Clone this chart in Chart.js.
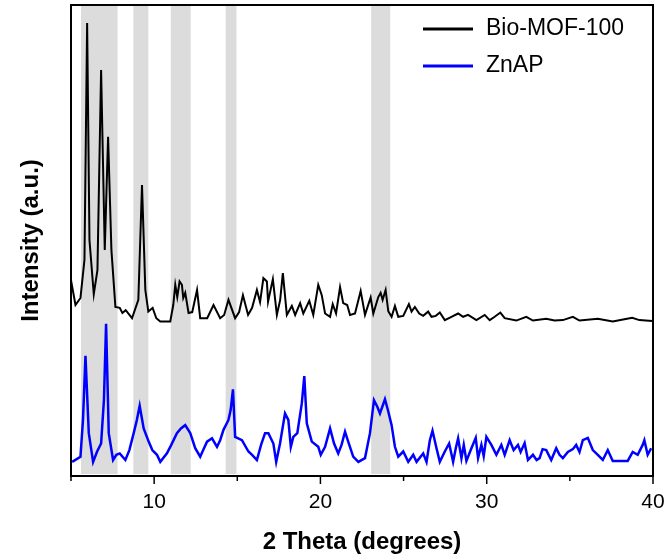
<!DOCTYPE html>
<html>
<head>
<meta charset="utf-8">
<script src="https://cdn.jsdelivr.net/npm/chart.js@4"></script>
<style>
  html, body { margin: 0; padding: 0; background: #fff; overflow: hidden; }
  #wrap { width: 668px; height: 560px; }
</style>
</head>
<body>
<div id="wrap"><canvas id="xrd"></canvas></div>
<script>
// Daten (2 Theta in Grad, Intensitaet in willkuerlichen Einheiten)
const bioTheta = [5.00, 5.27, 5.57, 5.81, 5.97, 6.11, 6.37, 6.59, 6.81, 7.03, 7.23, 7.43, 7.67, 7.93, 8.09, 8.29, 8.67, 9.05, 9.27, 9.47,
    9.65, 9.91, 10.13, 10.37, 10.97, 11.15, 11.27, 11.39, 11.53, 11.67, 11.75, 11.87, 12.07, 12.29, 12.58, 12.77, 13.19, 13.57, 13.97, 14.21,
    14.47, 14.87, 15.11, 15.34, 15.65, 15.89, 16.18, 16.37, 16.57, 16.78, 16.85, 17.14, 17.38, 17.58, 17.74, 17.98, 18.28, 18.48, 18.78, 18.97,
    19.33, 19.57, 19.87, 20.08, 20.28, 20.58, 20.74, 20.94, 21.18, 21.37, 21.61, 21.78, 22.08, 22.42, 22.68, 23.02, 23.18, 23.48, 23.62, 23.74,
    23.92, 24.08, 24.28, 24.48, 24.68, 24.98, 25.32, 25.48, 25.68, 25.94, 26.18, 26.48, 26.68, 26.94, 27.18, 27.48, 27.88, 28.28, 28.58, 28.88,
    29.38, 29.88, 30.18, 30.48, 30.82, 31.08, 31.78, 32.38, 32.78, 33.58, 34.08, 34.58, 35.18, 35.58, 36.68, 37.58, 38.28, 38.75, 39.18, 39.96];
const bioIntensity = [41.6, 36.3, 37.8, 45.9, 96.2, 50.1, 38.6, 43.7, 86.2, 48.0, 72.0, 48.0, 35.9, 35.7, 34.6, 35.2, 33.5, 37.4, 61.8, 39.5,
    34.9, 35.7, 33.5, 32.8, 32.8, 36.3, 40.6, 38.0, 41.3, 40.6, 37.8, 38.9, 34.6, 34.8, 39.5, 33.5, 33.5, 36.3, 33.5, 34.2,
    37.4, 33.5, 34.8, 38.4, 34.2, 35.7, 39.5, 36.9, 42.0, 41.3, 37.0, 41.8, 34.2, 37.4, 43.1, 34.2, 36.1, 34.2, 36.7, 34.5,
    37.2, 34.2, 40.6, 38.4, 34.5, 33.8, 36.5, 34.5, 40.1, 36.7, 36.3, 34.2, 34.5, 39.3, 34.2, 37.9, 34.5, 38.0, 38.9, 37.4,
    39.5, 35.0, 33.8, 36.1, 33.8, 34.0, 36.5, 34.9, 35.9, 34.5, 34.0, 34.9, 33.8, 34.0, 34.7, 33.1, 33.8, 34.5, 33.8, 34.2,
    33.1, 34.2, 33.1, 33.8, 34.7, 33.5, 33.0, 33.8, 33.0, 33.4, 33.0, 33.1, 33.8, 33.0, 33.4, 32.8, 33.3, 33.6, 33.1, 32.9];

const znTheta = [5.07, 5.57, 5.72, 5.87, 6.07, 6.33, 6.57, 6.81, 6.98, 7.11, 7.27, 7.53, 7.73, 7.93, 8.27, 8.51, 8.77, 8.96, 9.13, 9.37,
    9.67, 9.89, 10.17, 10.37, 10.77, 11.03, 11.37, 11.61, 11.87, 12.17, 12.47, 12.77, 12.95, 13.18, 13.48, 13.78, 13.97, 14.17, 14.47, 14.60,
    14.74, 14.87, 15.28, 15.67, 15.89, 16.18, 16.43, 16.67, 16.87, 17.17, 17.34, 17.57, 17.87, 18.07, 18.22, 18.37, 18.61, 18.88, 19.03, 19.18,
    19.48, 19.87, 20.02, 20.28, 20.58, 20.82, 21.07, 21.27, 21.48, 21.67, 21.97, 22.28, 22.68, 22.98, 23.22, 23.42, 23.58, 23.88, 24.08, 24.28,
    24.48, 24.68, 24.98, 25.28, 25.58, 25.78, 26.18, 26.38, 26.58, 26.74, 26.98, 27.18, 27.48, 27.74, 27.98, 28.14, 28.28, 28.48, 28.62, 28.78,
    29.08, 29.34, 29.48, 29.68, 29.82, 29.98, 30.28, 30.58, 30.88, 31.08, 31.38, 31.62, 31.88, 32.04, 32.28, 32.48, 32.78, 33.00, 33.18, 33.36,
    33.58, 33.88, 34.18, 34.38, 34.58, 34.88, 35.18, 35.38, 35.58, 35.78, 36.08, 36.38, 36.68, 36.98, 37.28, 37.58, 37.98, 38.48, 38.78, 39.08,
    39.38, 39.48, 39.68, 39.89];
const znIntensity = [3.0, 4.1, 11.9, 25.5, 9.1, 3.0, 5.2, 6.9, 16.1, 32.3, 9.1, 3.4, 4.5, 4.8, 3.4, 5.5, 9.1, 11.9, 14.9, 10.1,
    7.3, 5.5, 4.5, 3.0, 4.8, 6.6, 9.1, 10.1, 10.8, 9.1, 5.9, 4.1, 5.5, 7.3, 8.0, 6.2, 7.6, 9.8, 11.9, 14.0,
    18.4, 8.3, 7.6, 5.2, 4.5, 3.4, 6.6, 9.1, 9.1, 6.9, 3.0, 6.9, 13.3, 11.9, 6.2, 8.3, 9.1, 15.4, 21.2, 11.2,
    7.3, 6.2, 4.5, 6.2, 10.1, 6.9, 4.8, 6.6, 9.4, 7.3, 4.1, 3.0, 3.8, 9.1, 16.1, 14.7, 13.3, 16.3, 13.7, 10.8,
    6.2, 4.1, 5.2, 3.0, 4.5, 3.0, 4.8, 3.0, 7.6, 9.6, 5.9, 3.0, 5.2, 6.9, 3.0, 5.9, 8.0, 3.8, 6.6, 3.2,
    5.9, 8.1, 3.8, 6.6, 4.2, 8.3, 6.6, 4.5, 6.6, 4.5, 7.6, 5.5, 6.6, 5.1, 7.0, 3.4, 4.5, 3.4, 3.8, 5.7,
    5.5, 3.4, 5.9, 4.5, 3.8, 5.1, 5.7, 6.6, 5.1, 7.6, 8.1, 5.5, 4.5, 3.4, 5.5, 3.2, 3.2, 3.2, 5.1, 4.5,
    6.6, 7.6, 4.5, 5.9];

const seriesNames = ['Bio-MOF-100', 'ZnAP'];
// grau hinterlegte Bereiche (2 Theta von / bis)
const bands = [[5.6, 7.8], [8.75, 9.65], [11.0, 12.2], [14.3, 14.95], [23.05, 24.2]];
const xTicks = [5, 10, 15, 20, 25, 30, 35, 40];

function toPoints(xs, ys) {
    return xs.map((x, i) => ({ x: x, y: ys[i] }));
}

const FONT = "'Liberation Sans', Arial, sans-serif";

// Bereiche, Rahmen, Ticks und Legende zeichnen
const xrdDecor = {
    id: 'xrdDecor',
    beforeDatasetsDraw(chart) {
        const { ctx, chartArea: { top, bottom }, scales: { x } } = chart;
        ctx.save();
        ctx.fillStyle = '#dcdcdc';
        bands.forEach(b => {
            const x1 = x.getPixelForValue(b[0]);
            const x2 = x.getPixelForValue(b[1]);
            ctx.fillRect(x1, top + 1, x2 - x1, bottom - top - 3);
        });
        ctx.restore();
    },
    afterDraw(chart) {
        const { ctx, chartArea: { top, bottom, left, right }, scales: { x } } = chart;
        ctx.save();
        ctx.strokeStyle = '#000';
        ctx.lineWidth = 2;
        ctx.strokeRect(left, top, right - left, bottom - top);

        // Ticks nach aussen
        ctx.lineWidth = 1.5;
        xTicks.forEach(v => {
            const px = x.getPixelForValue(v);
            const len = v % 10 === 0 ? 8 : 5;
            ctx.beginPath();
            ctx.moveTo(px, bottom);
            ctx.lineTo(px, bottom + len);
            ctx.stroke();
        });

        // Legende
        ctx.font = '23px ' + FONT;
        ctx.textBaseline = 'middle';
        ctx.textAlign = 'left';
        chart.data.datasets.forEach((ds, i) => {
            const y = 29 + i * 37;
            ctx.strokeStyle = ds.borderColor;
            ctx.lineWidth = 3;
            ctx.beginPath();
            ctx.moveTo(423, y);
            ctx.lineTo(473, y);
            ctx.stroke();
            ctx.fillStyle = '#000';
            ctx.fillText(ds.label, 486, y);
        });
        ctx.restore();
    }
};

const ctx = document.getElementById('xrd');
new Chart(ctx, {
    type: 'line',
    data: {
        datasets: [{
            label: seriesNames[0],
            data: toPoints(bioTheta, bioIntensity),
            borderColor: '#000000',
            borderWidth: 2,
            pointRadius: 0,
            tension: 0
        }, {
            label: seriesNames[1],
            data: toPoints(znTheta, znIntensity),
            borderColor: '#0000ff',
            borderWidth: 2.5,
            pointRadius: 0,
            tension: 0
        }]
    },
    options: {
        responsive: true,
        maintainAspectRatio: false,
        animation: false,
        layout: {
            padding: { left: 0, right: 15, top: 5, bottom: 0 }
        },
        plugins: {
            legend: { display: false },
            tooltip: { enabled: false }
        },
        scales: {
            x: {
                type: 'linear',
                min: 5,
                max: 40,
                afterFit(scale) {
                    scale.height = 84;
                    scale.paddingLeft = 0;
                    scale.paddingRight = 0;
                },
                ticks: {
                    stepSize: 5,
                    padding: 14,
                    color: '#000',
                    font: { family: FONT, size: 21 },
                    callback: v => (v % 10 === 0 ? String(v) : '')
                },
                grid: { display: false, drawTicks: false },
                border: { display: false },
                title: {
                    display: true,
                    text: '2 Theta (degrees)',
                    color: '#000',
                    padding: { top: 0, bottom: 3 },
                    font: { family: FONT, size: 24, weight: 'bold' }
                }
            },
            y: {
                min: 0,
                max: 100,
                afterFit(scale) { scale.width = 71; },
                ticks: { display: false },
                grid: { display: false, drawTicks: false },
                border: { display: false },
                title: {
                    display: true,
                    text: 'Intensity (a.u.)',
                    color: '#000',
                    padding: { top: 17, bottom: 0 },
                    font: { family: FONT, size: 24, weight: 'bold' }
                }
            }
        }
    },
    plugins: [xrdDecor]
});
</script>
</body>
</html>
